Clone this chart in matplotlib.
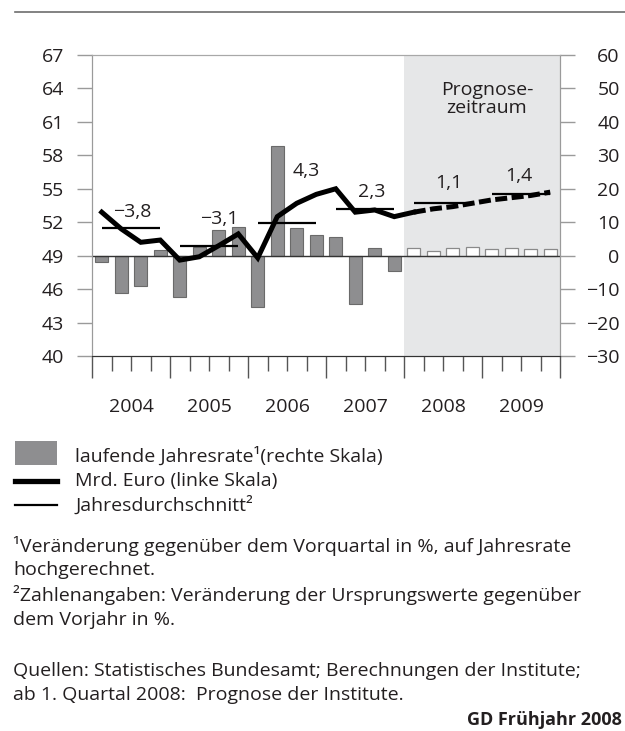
import matplotlib.pyplot as plt
import numpy as np
from matplotlib.patches import Rectangle
from matplotlib.lines import Line2D
import matplotlib.transforms as mtransforms

plt.rcParams['font.family'] = ['Open Sans', 'DejaVu Sans']

# quarterly data 2004Q1 .. 2009Q4
years = [2004, 2005, 2006, 2007, 2008, 2009]
rate = [-2.0, -11.3, -9.0, 1.7,
        -12.3, 2.5, 7.7, 8.5,
        -15.3, 32.7, 8.2, 6.2,
        5.6, -14.6, 2.2, -4.6,
        2.4, 1.3, 2.4, 2.6,
        1.9, 2.3, 1.9, 1.9]
mrd_euro = [52.9, 51.4, 50.2, 50.4,
            48.6, 48.9, 49.9, 50.95,
            48.8, 52.5, 53.7, 54.5,
            55.0, 52.9, 53.1, 52.5,
            52.9, 53.2, 53.4, 53.7,
            54.0, 54.2, 54.4, 54.7]
year_avg = [51.46, 49.87, 51.97, 53.17, 53.74, 54.52]
year_avg_labels = ["\u22123,8", "\u22123,1", "4,3", "2,3", "1,1", "1,4"]
n_hist = 16  # quarters before forecast period

W, H = 625, 731
fig = plt.figure(figsize=(W / 100, H / 100), dpi=100)
FS = 14

def fx(px):
    return px / W

def fy(py):
    return 1 - py / H

ax = fig.add_axes([fx(92), fy(356), fx(560) - fx(92), fy(55) - fy(356)])
axr = ax.twinx()
ax.set_zorder(axr.get_zorder() + 1)
ax.patch.set_visible(False)

q = np.arange(len(rate))
grey_txt = '#231f20'

# forecast shading and bars (right scale)
axr.axvspan(n_hist - 0.5, len(rate) - 0.5, color='#e6e7e8', lw=0, zorder=0)
axr.bar(q[:n_hist], rate[:n_hist], width=0.65, color='#8e8e90',
        edgecolor='#6a6a6a', lw=0.8, zorder=2)
axr.bar(q[n_hist:], rate[n_hist:], width=0.65, color='white',
        edgecolor='#8a8a8a', lw=0.9, zorder=2)
axr.axhline(0, color='#333333', lw=1.0, zorder=3)

# level line (left scale)
ax.plot(q[:n_hist + 1], mrd_euro[:n_hist + 1], color='black', lw=3.6,
        solid_joinstyle='miter', zorder=5)
ax.plot(q[n_hist:], mrd_euro[n_hist:], color='black', lw=3.6,
        dashes=(2.4, 0.9), zorder=5)

# annual averages
for i, v in enumerate(year_avg):
    ax.hlines(v, 4 * i, 4 * i + 3, color='black', lw=1.6, zorder=4)

lab_pos = [(1.58, 52.95), (6.0, 52.3), (10.47, 56.6),
           (13.83, 54.7), (17.8, 55.5), (21.4, 56.15)]
for (x, y), t in zip(lab_pos, year_avg_labels):
    ax.text(x, y, t, ha='center', va='center', fontsize=FS, color=grey_txt,
            zorder=6)

ax.text(0.844, 0.915, "Prognose-\nzeitraum", transform=ax.transAxes,
        ha='center', va='top', fontsize=FS, color=grey_txt,
        linespacing=1.05)

# axes scales
ax.set_xlim(-0.5, len(rate) - 0.5)
ax.set_ylim(40, 67)
axr.set_ylim(-30, 60)
ax.set_yticks(np.arange(40, 68, 3))
axr.set_yticks(np.arange(-30, 61, 10))
axr.set_yticklabels([str(v).replace('-', '\u2212') for v in range(-30, 61, 10)])

ax.set_xticks(np.arange(-0.5, len(rate), 4))
ax.set_xticks(np.arange(-0.5, len(rate), 1), minor=True)
ax.set_xticklabels([])
ax.tick_params(axis='x', which='major', direction='out', length=16,
               width=1, color='#555555')
ax.tick_params(axis='x', which='minor', direction='out', length=11,
               width=1, color='#555555')
ax.tick_params(axis='y', direction='out', length=11, width=1,
               color='#9a9a9a', labelsize=FS, labelcolor=grey_txt, pad=9)
axr.tick_params(axis='y', direction='out', length=11, width=1,
                color='#9a9a9a', labelsize=FS, labelcolor=grey_txt, pad=32)
for lab in axr.get_yticklabels():
    lab.set_horizontalalignment('right')

trans = mtransforms.blended_transform_factory(ax.transData, ax.transAxes)
for i, yr in enumerate(years):
    ax.text(4 * i + 1.5, -0.168, str(yr), transform=trans, ha='center',
            va='center', fontsize=FS, color=grey_txt)

for a in (ax, axr):
    a.spines['left'].set_color('#9a9a9a')
    a.spines['right'].set_color('#9a9a9a')
    a.spines['top'].set_color('#a8a8a8')
    a.spines['bottom'].set_color('#333333')
    a.tick_params(axis='x', which='both', bottom=(a is ax))

# top rule
fig.add_artist(Line2D([fx(15), 1], [fy(12), fy(12)], color='#6d6d6d', lw=1.2))

# legend
fig.add_artist(Rectangle((fx(15), fy(465)), fx(57) - fx(15), fy(441) - fy(465),
                         facecolor='#8e8e90', edgecolor='none'))
fig.add_artist(Line2D([fx(15), fx(57)], [fy(481), fy(481)], color='black', lw=3.8))
fig.add_artist(Line2D([fx(15), fx(57)], [fy(505), fy(505)], color='black', lw=1.6))
leg_txt = ["laufende Jahresrate\u00b9(rechte Skala)", "Mrd. Euro (linke Skala)",
           "Jahresdurchschnitt\u00b2"]
for t, y in zip(leg_txt, [456, 481, 505]):
    fig.text(fx(75), fy(y), t, ha='left', va='center', fontsize=FS, color=grey_txt)

notes = [("\u00b9Ver\u00e4nderung gegen\u00fcber dem Vorquartal in %, auf Jahresrate", 546),
         ("hochgerechnet.", 570),
         ("\u00b2Zahlenangaben: Ver\u00e4nderung der Ursprungswerte gegen\u00fcber", 595),
         ("dem Vorjahr in %.", 620),
         ("Quellen: Statistisches Bundesamt; Berechnungen der Institute;", 671),
         ("ab 1. Quartal 2008:  Prognose der Institute.", 695)]
for t, y in notes:
    fig.text(fx(13), fy(y), t, ha='left', va='center', fontsize=FS, color=grey_txt)
fig.text(fx(622), fy(720), "GD Fr\u00fchjahr 2008", ha='right', va='center',
         fontsize=13, fontweight='bold', color=grey_txt)

fig.savefig("out.png", dpi=100)
